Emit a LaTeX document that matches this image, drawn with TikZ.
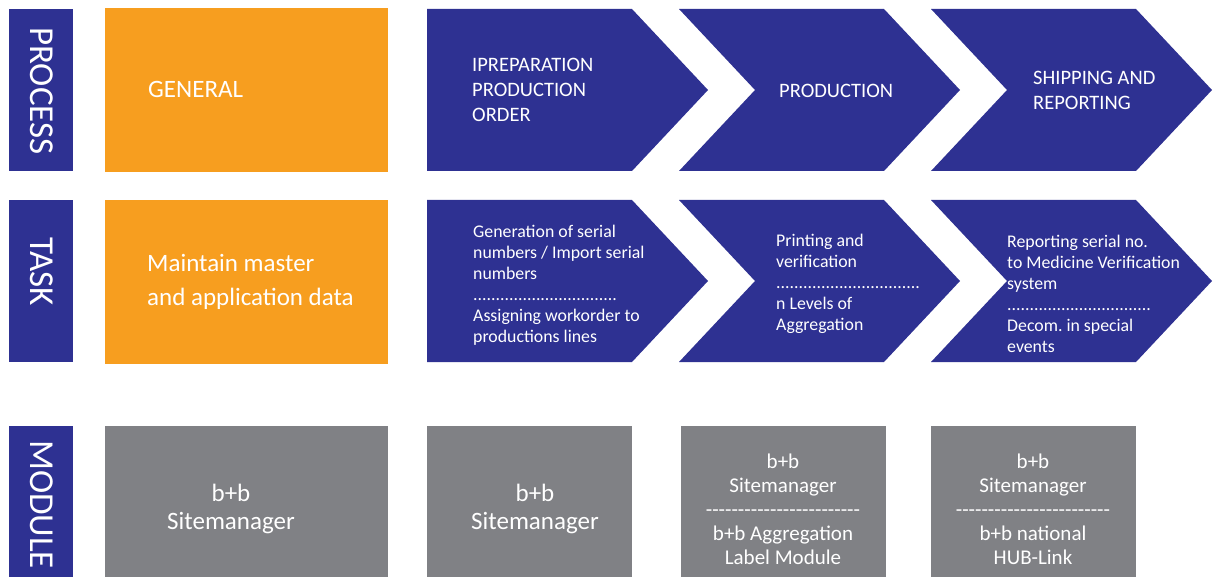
\documentclass[tikz,border=0pt]{standalone}
\usepackage{fontspec}
\setmainfont{Carlito}
\usepackage{xcolor}
\definecolor{bbnavy}{RGB}{46,49,146}
\definecolor{bborange}{RGB}{247,158,31}
\definecolor{bbgrey}{RGB}{128,129,133}
\newcommand{\hyphenrow}[1]{\foreach \k in {1,...,#1}{\mbox{-}}}
\tikzset{rowlabel/.style={rotate=-90,anchor=mid west,inner sep=0pt,text=white,
  font=\fontsize{35}{35}\selectfont},
 headtext/.style={text=white,inner sep=0pt,anchor=west,align=left,
  font=\fontsize{20.5}{25}\selectfont},
 generaltext/.style={text=white,inner sep=0pt,anchor=west,align=left,
  font=\fontsize{25}{34}\selectfont},
 tasktext/.style={text=white,inner sep=0pt,anchor=west,align=left,
  font=\fontsize{17.8}{21}\selectfont},
 moduletext/.style={text=white,inner sep=0pt,align=center,
  font=\fontsize{25}{28}\selectfont},
 smallmodule/.style={text=white,inner sep=0pt,align=center,
  font=\fontsize{21}{24}\selectfont},
 }

\begin{document}
\begin{tikzpicture}[x=1pt,y=-1pt]
        \useasboundingbox (0,0) rectangle (1213,577);
        \fill [bbnavy] (9,9) rectangle (73,171);
        \fill [bbnavy] (9,200) rectangle (73,362);
        \fill [bbnavy] (9,426) rectangle (73,577);
        \node [rowlabel] (process) at (33,27) {PROCESS};
        \node [rowlabel] (task) at (33,237) {TASK};
        \node [rowlabel] (module) at (33,440) {MODULE};
        \fill [bborange] (105,8) rectangle (388,172);
        \fill [bborange] (105,200) rectangle (388,364);
        \node [generaltext] (general) at (148,89) {GENERAL};
        \node [generaltext] (maintain) at (147,282) {Maintain master\\and application data};
        \fill [bbnavy] (427,9) -- (632,9) -- (708,90) -- (632,171) -- (427,171) -- cycle;
        \fill [bbnavy] (679,9) -- (884,9) -- (960,90) -- (884,171) -- (679,171) -- (755,90) -- cycle;
        \fill [bbnavy] (931,9) -- (1136,9) -- (1212,90) -- (1136,171) -- (931,171) -- (1007,90) -- cycle;
        \node [headtext] (prep) at (472,90) {IPREPARATION\\PRODUCTION\\ORDER};
        \node [headtext] (production) at (779,91) {PRODUCTION};
        \node [headtext] (shipping) at (1033,90.5) {SHIPPING AND\\REPORTING};
        \fill [bbnavy] (427,200) -- (632,200) -- (708,281) -- (632,362) -- (427,362) -- cycle;
        \fill [bbnavy] (679,200) -- (884,200) -- (960,281) -- (884,362) -- (679,362) -- (755,281) -- cycle;
        \fill [bbnavy] (931,200) -- (1136,200) -- (1212,281) -- (1136,362) -- (931,362) -- (1007,281) -- cycle;
        \node [tasktext] (serials) at (473,285) {Generation of serial\\numbers / Import serial\\numbers\\................................\\Assigning workorder to\\productions lines};
        \node [tasktext] (printing) at (776,284) {Printing and\\verification\\................................\\n Levels of\\Aggregation};
        \node [tasktext] (reporting) at (1007,294) {Reporting serial no.\\to Medicine Verification\\system\\................................\\Decom.\ in special\\events};
        \fill [bbgrey] (105,426) rectangle (388,577);
        \fill [bbgrey] (427,426) rectangle (632,577);
        \fill [bbgrey] (681,426) rectangle (886,577);
        \fill [bbgrey] (931,426) rectangle (1136,577);
        \node [moduletext] (site1) at (231,509) {b+b\\Sitemanager};
        \node [moduletext] (site2) at (535,509) {b+b\\Sitemanager};
        \node [smallmodule] (aggregation) at (783,509) {b+b\\Sitemanager\\\hyphenrow{24}\\b+b Aggregation\\Label Module};
        \node [smallmodule] (hublink) at (1033,509) {b+b\\Sitemanager\\\hyphenrow{24}\\b+b national\\HUB-Link};
    \end{tikzpicture}
\end{document}
